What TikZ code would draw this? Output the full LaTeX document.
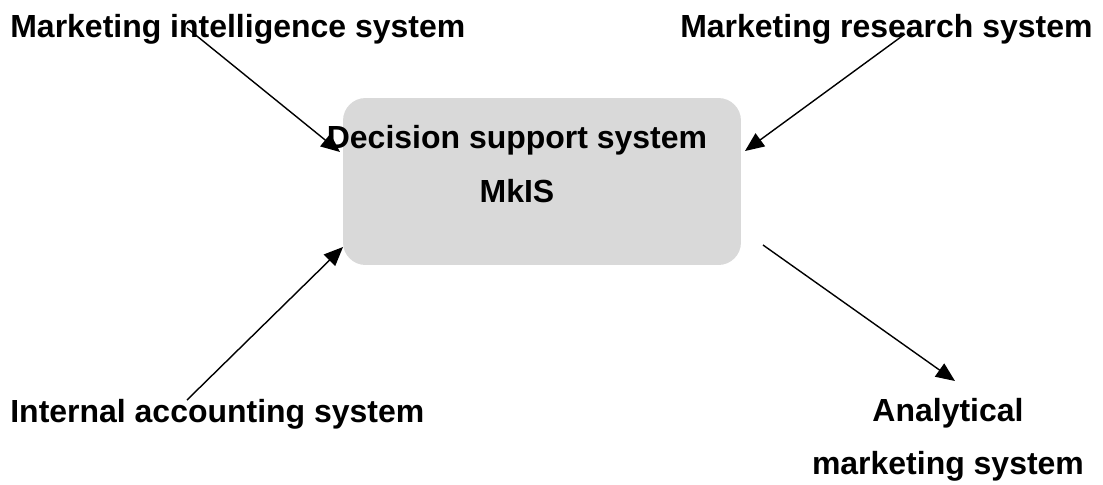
\documentclass[tikz,border=0pt]{standalone}
\usepackage{fontspec}
\setmainfont{Liberation Sans}
\usetikzlibrary{arrows.meta}
\definecolor{boxgray}{RGB}{217,217,217}
\begin{document}
\begin{tikzpicture}[x=0.02cm, y=-0.02cm,
        lbl/.style={font=\fontsize{18.2}{22}\selectfont\bfseries, inner sep=0pt},
        arr/.style={-{Triangle[length=0.38cm, width=0.32cm]}, line width=0.8pt}]
        \useasboundingbox (0,0) rectangle (1103,484);

        \node[fill=boxgray, rounded corners=0.45cm, minimum width=7.96cm, minimum height=3.34cm] (box) at (542,181.5) {};

        \node[lbl, anchor=base] (dss) at (517,148) {Decision support system};
        \node[lbl, anchor=base] (mkis) at (517,202) {MkIS};

        \node[lbl, anchor=base west] (mis) at (10,37) {Marketing intelligence system};
        \node[lbl, anchor=base east] (mrs) at (1093,37) {Marketing research system};
        \node[lbl, anchor=base west] (ias) at (10,422) {Internal accounting system};
        \node[lbl, anchor=base] (ams) at (948,421) {Analytical};
        \node[lbl, anchor=base] (ams2) at (948,474) {marketing system};

        % arrow ends
        \coordinate (misout) at (187,28);
        \coordinate (mrsout) at (905,34);
        \coordinate (iasout) at (187,400);
        \coordinate (boxout) at (763,245);
        \coordinate (boxnw) at (340,152);
        \coordinate (boxne) at (745,151);
        \coordinate (boxsw) at (343,247);
        \coordinate (amsin) at (955,381);

        \draw[arr] (misout) -- (boxnw);
        \draw[arr] (mrsout) -- (boxne);
        \draw[arr] (iasout) -- (boxsw);
        \draw[arr] (boxout) -- (amsin);
    \end{tikzpicture}
\end{document}
